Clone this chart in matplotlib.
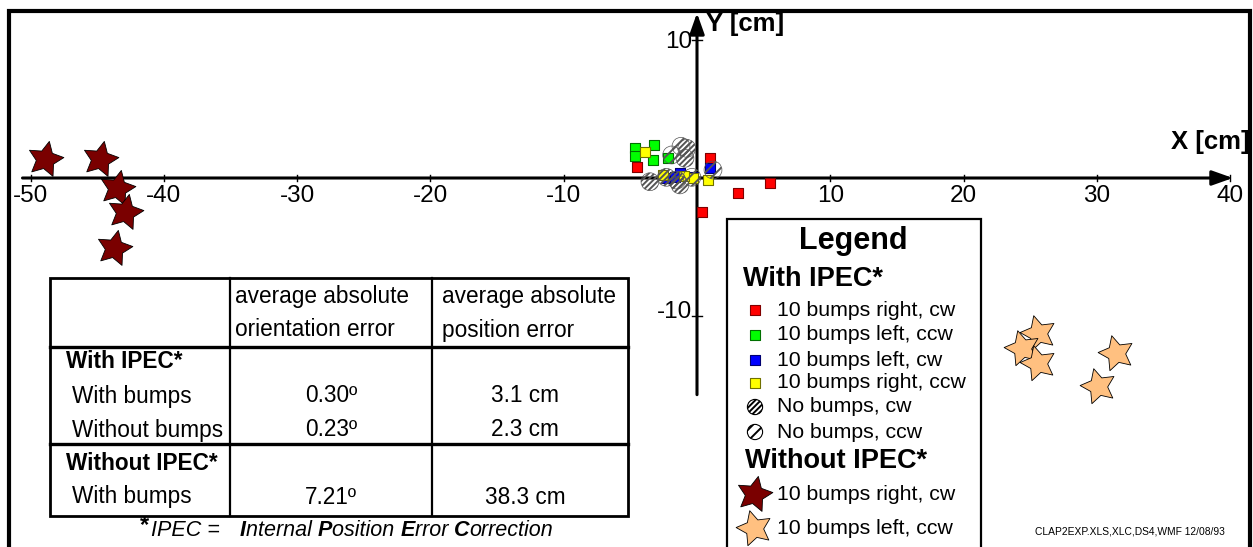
import matplotlib
matplotlib.use("Agg")
import numpy as np
import matplotlib.pyplot as plt
from matplotlib.lines import Line2D
from matplotlib.patches import Rectangle
from matplotlib.path import Path

plt.rcParams['font.family'] = ['Liberation Sans', 'DejaVu Sans']
plt.rcParams['hatch.linewidth'] = 1.4

# ---------------- data (cm) ----------------
red_x = [-4.52, 0.98, 3.10, 5.48, 0.35]
red_y = [0.78, 1.47, -1.07, -0.34, -2.50]
green_x = [-4.65, -3.20, -4.65, -3.28, -2.18]
green_y = [2.15, 2.39, 1.62, 1.30, 1.43]
blue_x = [0.98, -1.28, -0.30, -2.27, -1.65]
blue_y = [0.70, 0.36, 0.07, -0.02, 0.10]
yellow_x = [-3.90, 0.80, -2.55, -0.30, -1.00]
yellow_y = [1.90, -0.15, 0.20, 0.00, 0.15]
nobump_cw_x = [-3.53, -0.77, -0.90, -1.52, -1.28, -2.30]
nobump_cw_y = [-0.27, 2.15, 1.43, -0.15, -0.50, 0.05]
nobump_ccw_x = [-1.90, 1.20, -0.38, -1.20]
nobump_ccw_y = [1.67, 0.58, 0.05, 2.30]
noipec_right_x = [-48.9, -44.8, -43.5, -42.9, -43.7]
noipec_right_y = [1.35, 1.35, -0.75, -2.45, -5.10]
noipec_left_x = [25.6, 24.35, 25.6, 31.4, 30.1]
noipec_left_y = [-11.2, -12.35, -13.4, -12.7, -15.1]

x_ticks = [-50, -40, -30, -20, -10, 10, 20, 30, 40]
y_ticks = [10, -10]

legend_labels = ["10 bumps right, cw", "10 bumps left, ccw", "10 bumps left, cw",
                 "10 bumps right, ccw", "No bumps, cw", "No bumps, ccw"]
legend_labels_noipec = ["10 bumps right, cw", "10 bumps left, ccw"]

table_cols = ["average absolute\norientation error", "average absolute\nposition error"]
table_rows = ["With bumps", "Without bumps", "With bumps"]
orient_err = ["0.30º", "0.23º", "7.21º"]
pos_err = ["3.1 cm", "2.3 cm", "38.3 cm"]

# ---------------- figure ----------------
W, H = 1253, 547
fig = plt.figure(figsize=(W / 100, H / 100), dpi=100)
ax = fig.add_axes([0, 0, 1, 1])
ox, oy, sx, sy = 697.0, 178.0, 13.33, 13.8
ax.set_xlim((0 - ox) / sx, (W - ox) / sx)
ax.set_ylim((oy - H) / sy, oy / sy)
ax.axis('off')

def fx(px):
    return px / W

def fy(py):
    return 1 - py / H

def star_marker(rot_deg, inner=0.5):
    ang = np.deg2rad(90 + rot_deg + np.arange(10) * 36.0)
    rad = np.where(np.arange(10) % 2 == 0, 1.0, inner)
    v = np.column_stack([rad * np.cos(ang), rad * np.sin(ang)])
    v = np.vstack([v, v[:1]])
    codes = [Path.MOVETO] + [Path.LINETO] * 9 + [Path.CLOSEPOLY]
    return Path(v, codes)

star_r = star_marker(-12)
star_l = star_marker(15)
star_s = 700

# outer frame
fig.add_artist(Line2D([fx(9), fx(9), fx(1250), fx(1250)],
                      [fy(549), fy(11), fy(11), fy(549)], lw=3, color='k',
                      solid_joinstyle='miter'))

# axes with arrows
for xy, xyt in [((40.2, 0), (-50.6, 0)), ((0, 11.95), (0, -15.7))]:
    ax.annotate('', xy=xy, xytext=xyt,
                arrowprops=dict(arrowstyle='-|>,head_length=0.45,head_width=0.16',
                                lw=2.2, color='k', mutation_scale=28,
                                shrinkA=0, shrinkB=0))
for t in x_ticks:
    ax.plot([t, t], [-0.25, 0.25], color='k', lw=1.0)
    ax.text(t, -1.3, "%d" % t if t > 0 else "-%d" % (-t), ha='center', va='center',
            fontsize=17.5)
for t in y_ticks:
    ax.plot([-0.35, 0.35], [t, t], color='k', lw=1.0)
    ax.text(-0.35, t + (-0.15 if t > 0 else 0.3), "%d" % t if t > 0 else "-%d" % (-t),
            ha='right', va='center', fontsize=17.5)
ax.text(fx(1250), fy(142), "X [cm]", transform=fig.transFigure, ha='right', va='center',
        fontsize=18.5, fontweight='bold')
ax.text(fx(706), fy(24), "Y [cm]", transform=fig.transFigure, ha='left', va='center',
        fontsize=18.5, fontweight='bold')

# data markers
sq = 50
ax.scatter(red_x, red_y, marker='s', s=sq, c='#FF0000', edgecolors='#800000', linewidths=0.8, zorder=3)
ax.scatter(green_x, green_y, marker='s', s=sq, c='#00FF00', edgecolors='#007000', linewidths=0.8, zorder=3)
ax.scatter(blue_x, blue_y, marker='s', s=sq, c='#0000FF', edgecolors='#000070', linewidths=0.8, zorder=3)
ax.scatter(yellow_x, yellow_y, marker='s', s=sq, c='#FFFF00', edgecolors='#707000', linewidths=0.8, zorder=3)
ax.scatter(nobump_cw_x, nobump_cw_y, marker='o', s=165, facecolors='none', edgecolors='#555555',
           linewidths=0.5, hatch='//////', zorder=4)
ax.scatter(nobump_ccw_x, nobump_ccw_y, marker='o', s=165, facecolors='none', edgecolors='#555555',
           linewidths=0.5, hatch='///', zorder=4)
ax.scatter(noipec_right_x, noipec_right_y, marker=star_r, s=star_s, c='#7A0000',
           edgecolors='k', linewidths=0.6, zorder=3)
ax.scatter(noipec_left_x, noipec_left_y, marker=star_l, s=star_s, c='#FFC080',
           edgecolors='k', linewidths=0.6, zorder=3)

# ---------------- legend box ----------------
fig.add_artist(Line2D([fx(727), fx(727), fx(981), fx(981)],
                      [fy(560), fy(219), fy(219), fy(560)], lw=1.6, color='k',
                      solid_joinstyle='miter'))
fig.text(fx(853), fy(241), "Legend", ha='center', va='center', fontsize=22, fontweight='bold')
fig.text(fx(743), fy(279), "With IPEC*", ha='left', va='center', fontsize=19.5, fontweight='bold')
leg_y = [310, 335, 360, 383, 407, 432]
leg_style = [
    dict(marker='s', s=50, c='#FF0000', edgecolors='#800000', linewidths=0.8),
    dict(marker='s', s=50, c='#00FF00', edgecolors='#007000', linewidths=0.8),
    dict(marker='s', s=50, c='#0000FF', edgecolors='#000070', linewidths=0.8),
    dict(marker='s', s=50, c='#FFFF00', edgecolors='#707000', linewidths=0.8),
    dict(marker='o', s=120, facecolors='white', edgecolors='k', linewidths=0.8, hatch='//////'),
    dict(marker='o', s=120, facecolors='white', edgecolors='k', linewidths=0.8, hatch='///'),
]
for yy, lab, st in zip(leg_y, legend_labels, leg_style):
    ax.scatter([fx(755)], [fy(yy)], transform=fig.transFigure, zorder=5, **st)
    fig.text(fx(777), fy(yy), lab, ha='left', va='center', fontsize=15.3)
fig.text(fx(745), fy(461), "Without IPEC*", ha='left', va='center', fontsize=19.5, fontweight='bold')
for yy, lab, mk, col in zip([494, 528], legend_labels_noipec, [star_r, star_l], ['#7A0000', '#FFC080']):
    ax.scatter([fx(754)], [fy(yy)], transform=fig.transFigure, marker=mk, s=star_s, c=col,
               edgecolors='k', linewidths=0.6, zorder=5)
    fig.text(fx(777), fy(yy), lab, ha='left', va='center', fontsize=15.3)

# ---------------- table ----------------
tl, c1, c2, tr = 50, 230, 432, 628
tt, r1, r2, tb = 278, 347, 444, 516
fig.add_artist(Rectangle((fx(tl), fy(tb)), fx(tr) - fx(tl), fy(tt) - fy(tb), transform=fig.transFigure,
                         fill=True, facecolor='white', edgecolor='k', lw=2, zorder=6))
for xx in (c1, c2):
    fig.add_artist(Line2D([fx(xx), fx(xx)], [fy(tt), fy(tb)], lw=1.6, color='k', zorder=7))
for yy in (r1, r2):
    fig.add_artist(Line2D([fx(tl), fx(tr)], [fy(yy), fy(yy)], lw=2.4, color='k', zorder=7))
tfs = 16.3
for xx, lab in zip((c1 + 5, c2 + 10), table_cols):
    l1, l2 = lab.split("\n")
    fig.text(fx(xx), fy(297), l1, ha='left', va='center', fontsize=tfs, zorder=8)
    fig.text(fx(xx), fy(330), l2, ha='left', va='center', fontsize=tfs, zorder=8)
fig.text(fx(66), fy(362), "With IPEC*", ha='left', va='center', fontsize=tfs, fontweight='bold', zorder=8)
fig.text(fx(66), fy(463), "Without IPEC*", ha='left', va='center', fontsize=tfs, fontweight='bold', zorder=8)
for yy, lab, o, p in zip([396, 430, 497], table_rows, orient_err, pos_err):
    fig.text(fx(72), fy(yy), lab, ha='left', va='center', fontsize=tfs, zorder=8)
    fig.text(fx(331), fy(yy), o, ha='center', va='center', fontsize=tfs, zorder=8)
    fig.text(fx(525), fy(yy), p, ha='center', va='center', fontsize=tfs, zorder=8)

# footnote
fig.text(fx(140), fy(526), "*", ha='left', va='center', fontsize=17, fontweight='bold')
fig.text(fx(151), fy(530), "IPEC =   ", ha='left', va='center', fontsize=15.5, style='italic')
parts = [("I", True), ("nternal ", False), ("P", True), ("osition ", False),
         ("E", True), ("rror ", False), ("C", True), ("orrection", False)]
fig.canvas.draw()
r = fig.canvas.get_renderer()
xcur = 240
for txt, bold in parts:
    t = fig.text(fx(xcur), fy(530), txt, ha='left', va='center', fontsize=15.5, style='italic',
                 fontweight='bold' if bold else 'normal')
    bb = t.get_window_extent(renderer=r)
    xcur += bb.width

fig.text(fx(1035), fy(531), "CLAP2EXP.XLS,XLC,DS4,WMF 12/08/93", ha='left', va='center', fontsize=7.4)

fig.savefig("out.png", dpi=100)
